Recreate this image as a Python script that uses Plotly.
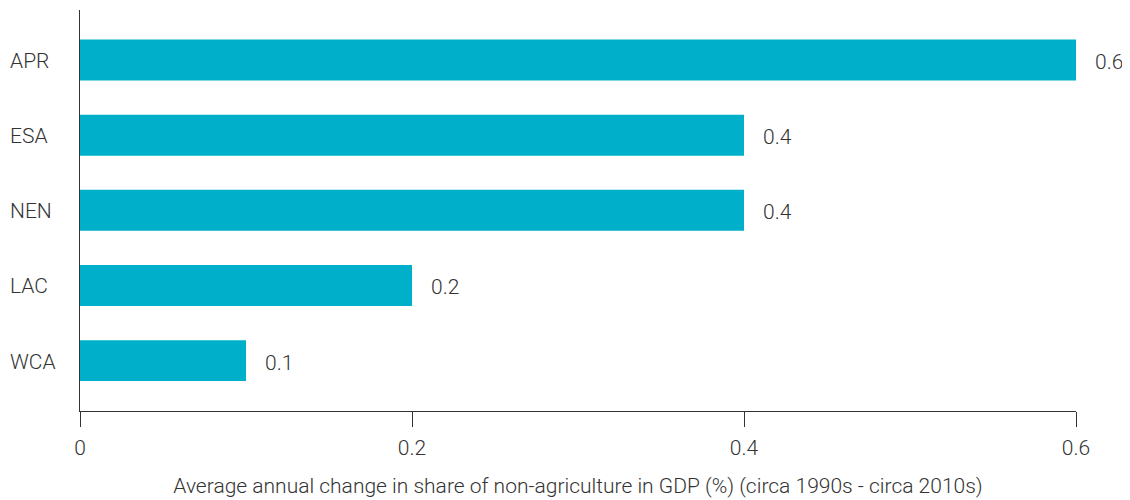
import plotly.graph_objects as go

categories = ["APR", "ESA", "NEN", "LAC", "WCA"]
values = [0.6, 0.4, 0.4, 0.2, 0.1]
x_ticks = [0, 0.2, 0.4, 0.6]
x_tick_labels = ["0", "0.2", "0.4", "0.6"]
x_title = "Average annual change in share of non-agriculture in GDP (%) (circa 1990s - circa 2010s)"

FONT = dict(family="Roboto, Liberation Sans, sans-serif", size=21, color="#333333", weight=300)

fig = go.Figure()
fig.add_trace(go.Bar(
    x=values, y=categories, orientation="h",
    marker=dict(color="#00B0CA", line=dict(width=0)),
    hoverinfo="skip",
))

for c, v in zip(categories, values):
    # value label to the right of each bar
    fig.add_annotation(x=v, y=c, text=str(v), showarrow=False,
                       xanchor="left", yanchor="middle", xshift=17, yshift=-2,
                       font=FONT)
    # left-aligned category label
    fig.add_annotation(x=0, xref="paper", y=c, yref="y", text=c, showarrow=False,
                       xanchor="left", yanchor="middle", xshift=-72, yshift=-1,
                       font=FONT)

# page body has an 8px default margin; size the figure so it fits in the window
fig.update_layout(
    width=1122, height=492,
    margin=dict(l=72, r=54, t=2, b=89),
    plot_bgcolor="white", paper_bgcolor="white",
    bargap=0.455,
    showlegend=False,
    font=FONT,
)
fig.update_xaxes(
    range=[0, 0.6], tickvals=x_ticks, ticktext=x_tick_labels,
    showgrid=False, zeroline=False,
    showline=True, linecolor="#333333", linewidth=1.2,
    ticks="outside", ticklen=15, tickcolor="#333333", tickwidth=1.2,
    ticklabelstandoff=3,
    title=dict(text=x_title, font=FONT, standoff=19),
    tickfont=FONT, automargin=False,
)
fig.update_yaxes(
    type="category", categoryorder="array", categoryarray=categories,
    range=[4.67, -0.665],
    showgrid=False, zeroline=False,
    showline=True, linecolor="#333333", linewidth=1.2,
    ticks="", showticklabels=False, automargin=False,
)

fig.write_html("out.html")
